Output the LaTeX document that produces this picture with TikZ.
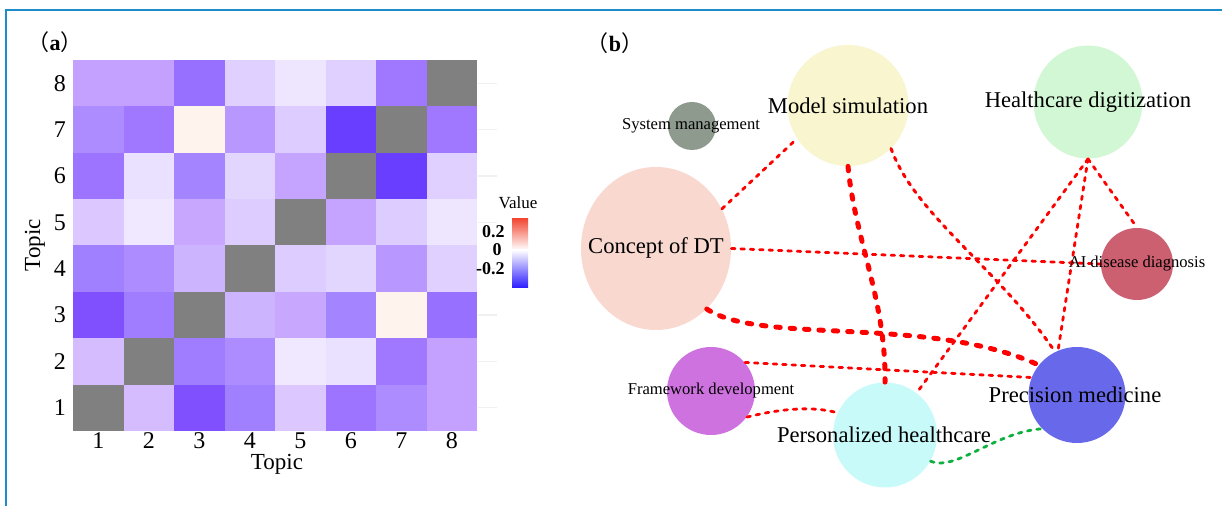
\documentclass[tikz,border=0pt]{standalone}
\usepackage{fontspec}
\setmainfont{Liberation Serif}
\newfontfamily\cjk{Noto Sans CJK SC}
\usetikzlibrary{shapes.geometric}
\definecolor{frameblue}{HTML}{1E8CC8}
\definecolor{gridgray}{HTML}{F0F0F0}
\definecolor{cbred}{HTML}{F24A35}
\definecolor{cbblue}{HTML}{2A1AFF}
\definecolor{smcol}{HTML}{8F9A8F}
\definecolor{mscol}{HTML}{F8F5CF}
\definecolor{hdcol}{HTML}{D2F7D4}
\definecolor{cdtcol}{HTML}{F9D8D0}
\definecolor{aicol}{HTML}{CC5F70}
\definecolor{fwcol}{HTML}{CE72E0}
\definecolor{phcol}{HTML}{C8FAFA}
\definecolor{pmcol}{HTML}{6868EA}
\definecolor{edgered}{HTML}{FF0000}
\definecolor{edgegreen}{HTML}{10B040}
\tikzset{
  bubble/.style={ellipse, draw=none, inner sep=0pt},
  biglab/.style={inner sep=0pt, font=\fontsize{11.3}{13}\selectfont},
  smalllab/.style={inner sep=0pt, font=\fontsize{8.3}{10}\selectfont},
  ticklab/.style={inner sep=0pt, font=\fontsize{12}{14}\selectfont},
  axislab/.style={inner sep=0pt, font=\fontsize{11.5}{14}\selectfont},
  leglab/.style={inner sep=0pt, font=\fontsize{9}{11}\selectfont\bfseries, anchor=east},
  panellab/.style={inner sep=0pt, font=\fontsize{11}{13}\selectfont},
  thinedge/.style={draw=edgered, line width=1.4pt, line cap=round, dash pattern=on 1.8pt off 2.9pt},
  midedge/.style={draw=edgered, line width=1.5pt, line cap=round, dash pattern=on 1.8pt off 2.9pt},
  thickedge/.style={draw=edgered, line width=2.5pt, line cap=round, dash pattern=on 2.2pt off 5pt},
  greenedge/.style={draw=edgegreen, line width=1.4pt, line cap=round, dash pattern=on 1.8pt off 2.9pt}
}
\begin{document}
\begin{tikzpicture}[x=0.5pt,y=-0.5pt]
\useasboundingbox (0,0) rectangle (1222,506);
\fill[white] (0,0) rectangle (1222,506);
\draw[frameblue, line width=1pt] (6,506) -- (6,10) -- (1222,10);

% ---------- panel (a) heatmap ----------
\node[panellab] (pa) at (55,42) {{\cjk （}\textbf{a}{\cjk ）}};
\foreach \c/\r/\h in {
 1/8/C4A0FF,2/8/C4A0FF,3/8/9870FF,4/8/E0D0FF,5/8/EEE6FF,6/8/E0D0FF,7/8/A078FF,8/8/808080,
 1/7/AC8CFF,2/7/A078FF,3/7/FFF3EE,4/7/B898FF,5/7/DCCCFF,6/7/6A3EFF,7/7/808080,8/7/A078FF,
 1/6/9C74FF,2/6/EAE0FF,3/6/A484FF,4/6/E2D6FF,5/6/C4A4FF,6/6/808080,7/6/6A3EFF,8/6/E0D0FF,
 1/5/DCC8FF,2/5/F0E8FF,3/5/C8A8FF,4/5/DCCCFF,5/5/808080,6/5/C4A4FF,7/5/DCCCFF,8/5/EEE6FF,
 1/4/A080FF,2/4/AC8CFF,3/4/CCB4FF,4/4/808080,5/4/DCCCFF,6/4/E2D6FF,7/4/B898FF,8/4/E0D0FF,
 1/3/8050FF,2/3/A07CFF,3/3/808080,4/3/CCB4FF,5/3/C8A8FF,6/3/A484FF,7/3/FFF3EE,8/3/9870FF,
 1/2/D4BCFF,2/2/808080,3/2/A07CFF,4/2/AC8CFF,5/2/F0E8FF,6/2/EAE0FF,7/2/A078FF,8/2/C4A0FF,
 1/1/808080,2/1/D4BCFF,3/1/8050FF,4/1/A080FF,5/1/DCC8FF,6/1/9C74FF,7/1/AC8CFF,8/1/C4A0FF}{
  \definecolor{cellc}{HTML}{\h}
  \fill[cellc] ({73+(\c-1)*50.5},{60+(8-\r)*46.375}) rectangle +(50.5,46.375);
}
\foreach \r in {1,...,8}{
  \draw[gridgray, line width=0.6pt] (478,{60+(8.5-\r)*46.375}) -- (497,{60+(8.5-\r)*46.375});
  \node[ticklab] (yt\r) at (60,{60+(8.5-\r)*46.375}) {\r};
  \node[ticklab] (xt\r) at ({73+(\r-0.5)*50.5},441) {\r};
}
\node[axislab] (xlab) at (277,464) {Topic};
\node[axislab, rotate=90] (ylab) at (35,245) {Topic};

% legend
\node[inner sep=0pt, font=\fontsize{8.5}{10}\selectfont] (legt) at (518,203) {Value};
\shade[top color=cbred, bottom color=white] (512,219) rectangle (528,250);
\shade[top color=white, bottom color=cbblue] (512,250) rectangle (528,288);
\node[leglab] (l1) at (505,232) {0.2};
\node[leglab] (l2) at (502,250) {0};
\node[leglab] (l3) at (505,269) {-0.2};

% ---------- panel (b) network ----------
\node[panellab] (pb) at (615,43) {{\cjk （}\textbf{b}{\cjk ）}};

\node[bubble, fill=smcol, minimum width=24pt, minimum height=24pt] (sm) at (692,126) {};
\node[bubble, fill=mscol, minimum width=60.5pt, minimum height=60.5pt] (ms) at (848,105.5) {};
\node[bubble, fill=hdcol, minimum width=54.5pt, minimum height=56.5pt] (hd) at (1088,102) {};
\node[bubble, fill=cdtcol, minimum width=75pt, minimum height=81.5pt] (cdt) at (656,248.5) {};
\node[bubble, fill=aicol, minimum width=36pt, minimum height=36pt] (ai) at (1137,264) {};
\node[bubble, fill=fwcol, minimum width=44pt, minimum height=44pt] (fw) at (711,391) {};
\node[bubble, fill=phcol, minimum width=52pt, minimum height=52.5pt] (ph) at (885,435) {};
\node[bubble, fill=pmcol, minimum width=48.5pt, minimum height=48pt] (pm) at (1077,395) {};

% edges
\draw[thinedge] (cdt.31) -- (ms.213);
\draw[thinedge] (cdt.0) -- (ai.180);
\draw[thickedge] (cdt.-50) .. controls (760,345) and (930,315) .. (pm.142);
\draw[thickedge] (ms.-90) .. controls (855,240) and (886,300) .. (ph.90);
\draw[midedge] (ms.-45) .. controls (915,215) and (1000,270) .. (pm.117);
\draw[thinedge] (hd.-90) -- (ph.53);
\draw[thinedge] (hd.-90) -- (pm.113);
\draw[thinedge] (hd.-90) -- (ai.90);
\draw[thinedge] (fw.40) -- (pm.159);
\draw[thinedge] (fw.-36) .. controls (775,410) and (810,405) .. (ph.155);
\draw[greenedge] (ph.-30) .. controls (955,472) and (995,432) .. (pm.224);

% labels
\node[smalllab] (sm-l) at (691,126) {System management};
\node[biglab] (ms-l) at (848,105.5) {Model simulation};
\node[biglab] (hd-l) at (1088,102) {Healthcare digitization};
\node[biglab] (cdt-l) at (656,248) {Concept of DT};
\node[smalllab] (ai-l) at (1137,264) {AI disease diagnosis};
\node[smalllab] (fw-l) at (711,391) {Framework development};
\node[biglab] (ph-l) at (884,435) {Personalized healthcare};
\node[biglab] (pm-l) at (1075,395) {Precision medicine};
\end{tikzpicture}
\end{document}
